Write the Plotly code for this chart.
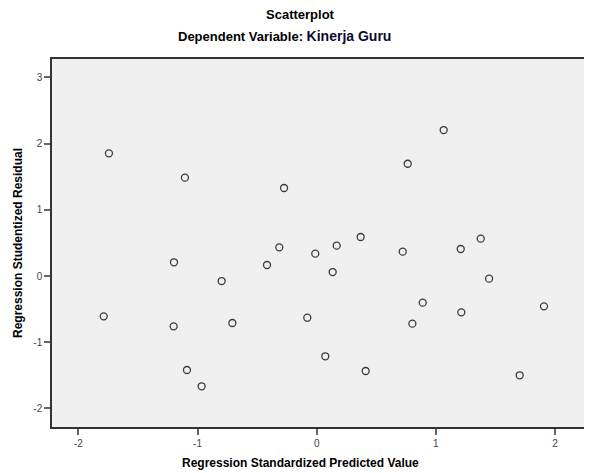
import plotly.graph_objects as go

predicted = [-1.744, -1.106, -0.274, -1.198, -0.798, -0.417, -0.314, -0.012, 0.134, 0.168,
             1.066, 0.764, 0.369, 0.722, 1.209, 1.377, 1.447, -1.788, -1.201, -0.708,
             -0.079, 0.072, -1.089, -0.966, 0.890, 0.803, 1.214, 1.908, 0.411, 1.704]
residual = [1.853, 1.485, 1.329, 0.207, -0.076, 0.166, 0.433, 0.337, 0.060, 0.458,
            2.205, 1.696, 0.589, 0.368, 0.408, 0.564, -0.040, -0.609, -0.760, -0.710,
            -0.630, -1.213, -1.420, -1.666, -0.403, -0.720, -0.549, -0.458, -1.435, -1.500]
x_ticks = [-2, -1, 0, 1, 2]
y_ticks = [-2, -1, 0, 1, 2, 3]

fig = go.Figure(go.Scatter(
    x=predicted, y=residual, mode="markers",
    marker=dict(symbol="circle-open", size=7, color="#3a3a3a", line=dict(width=1.3, color="#3a3a3a")),
    hoverinfo="x+y"))

font = "Liberation Sans, Arial, sans-serif"
fig.update_layout(
    width=584, height=465,
    margin=dict(l=44, r=0, t=51, b=46),
    paper_bgcolor="white", plot_bgcolor="#f0f0f0",
    showlegend=False,
    font=dict(family=font, color="#444", size=10),
    annotations=[
        dict(text="<b>Scatterplot</b>", xref="paper", yref="paper", x=0.461, y=1.0,
             yanchor="middle", yshift=45, showarrow=False,
             font=dict(size=13, color="black", family=font)),
        dict(text="<b>Dependent Variable:</b> <b><span style='color:#0a0a33;font-size:14px'>Kinerja Guru</span></b>",
             xref="paper", yref="paper", x=0.43, y=1.0, yanchor="middle", yshift=23, showarrow=False,
             font=dict(size=13, color="black", family=font)),
        dict(text="<b>Regression Standardized Predicted Value</b>", xref="paper", yref="paper",
             x=0.461, y=0, yanchor="middle", yshift=-36, showarrow=False,
             font=dict(size=12, color="black", family=font)),
        dict(text="<b>Regression Studentized Residual</b>", xref="paper", yref="paper",
             x=0, y=0.5, xanchor="center", xshift=-34, textangle=-90, showarrow=False,
             font=dict(size=12, color="black", family=font)),
    ],
)
fig.update_xaxes(
    range=[-2.222, 2.311], tickvals=x_ticks, ticktext=[str(v) for v in x_ticks],
    showgrid=False, zeroline=False, showline=True, linecolor="#333", linewidth=1.5, mirror=True,
    ticks="outside", ticklen=6, tickcolor="#666", tickwidth=1.5, automargin=False,
    tickfont=dict(size=10, color="#444", family=font),
)
fig.update_yaxes(
    range=[-2.281, 3.278], tickvals=y_ticks, ticktext=[str(v) for v in y_ticks],
    showgrid=False, zeroline=False, showline=True, linecolor="#333", linewidth=1.5, mirror=False,
    ticks="outside", ticklen=6, tickcolor="#666", tickwidth=1.5, automargin=False,
    tickfont=dict(size=10, color="#444", family=font),
)
fig.write_html("out.html")
